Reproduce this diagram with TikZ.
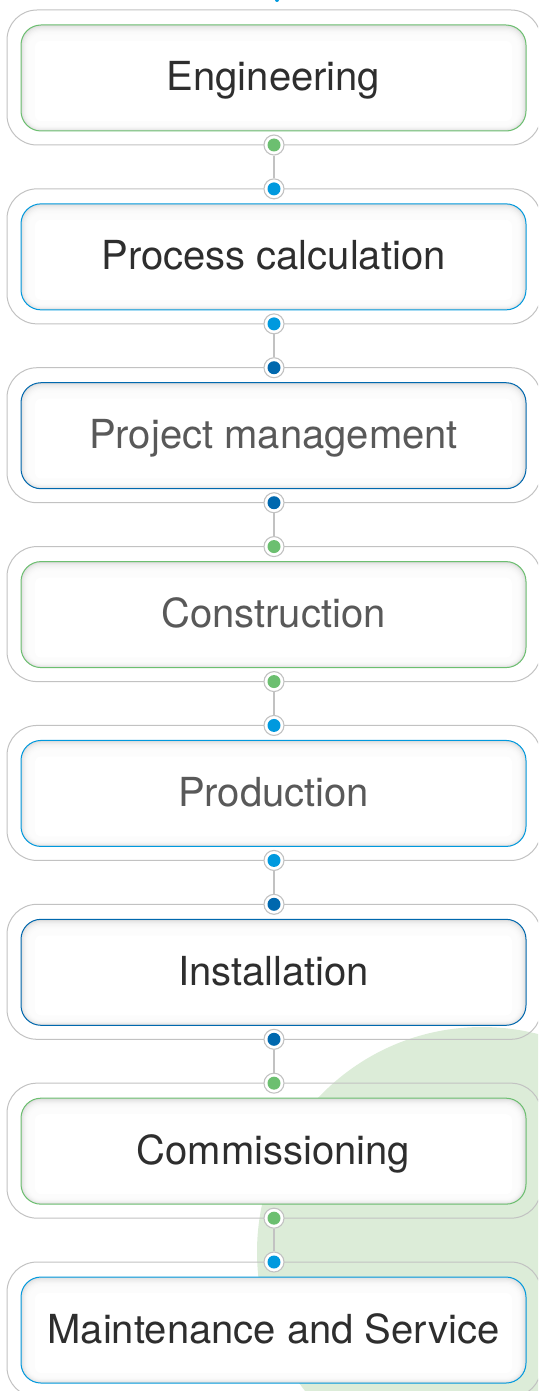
\documentclass[tikz,border=0pt]{standalone}
\usepackage{fontspec}
\setmainfont{TeX Gyre Heros}
\usetikzlibrary{calc}
\definecolor{bggreen}{HTML}{DCECD8}
\definecolor{cgreen}{HTML}{6CBF70}
\definecolor{cblue}{HTML}{0099DE}
\definecolor{cdblue}{HTML}{0068AE}
\definecolor{linegray}{HTML}{C2C2C2}
\definecolor{shadebase}{HTML}{DADADA}
\definecolor{tdark}{HTML}{2E2E2E}
\definecolor{tgray}{HTML}{595959}
\begin{document}
\begin{tikzpicture}[x=1pt,y=-1pt,
  outerbox/.style={draw=linegray, line width=1pt, rounded corners=30pt,
    minimum width=534pt, minimum height=135pt, inner sep=0pt},
  innerbox/.style={draw=#1, line width=1pt, rounded corners=20pt,
    minimum width=505pt, minimum height=106pt, inner sep=0pt, fill=shadebase,
    text height=40pt, text depth=14pt,
    font=\fontsize{40}{48}\selectfont,
    path picture={
      \foreach \k in {1,...,12}{
        \pgfmathsetmacro\rr{max(20-\k,2)}
        \fill[white, fill opacity=0.3, rounded corners=\rr pt]
          ($(path picture bounding box.south west)+(\k pt,0.7*\k pt)$) rectangle
          ($(path picture bounding box.north east)-(\k pt,1.2*\k pt)$);
      }
      \fill[white, rounded corners=6pt]
        ($(path picture bounding box.south west)+(14pt,10pt)$) rectangle
        ($(path picture bounding box.north east)-(14pt,16pt)$);
    }},
  jdot/.style={circle, draw=linegray, line width=1.1pt, fill=white,
    minimum size=20pt, inner sep=0pt,
    path picture={\fill[#1] (path picture bounding box.center) circle (6.5pt);}},
  conn/.style={draw=linegray, line width=1.2pt}
]
\useasboundingbox (0,0) rectangle (538,1391);
\clip (0,0) rectangle (538,1391);
\fill[bggreen] (482,1252) circle (225pt);
\fill[cblue] (277,0) circle (2pt);
\foreach \i/\txt/\col/\tc in {1/Engineering/cgreen/tdark,
    2/Process calculation/cblue/tdark,
    3/Project management/cdblue/tgray,
    4/Construction/cgreen/tgray,
    5/Production/cblue/tgray,
    6/Installation/cdblue/tdark,
    7/Commissioning/cgreen/tdark,
    8/Maintenance and Service/cblue/tdark}{
  \pgfmathsetmacro\ty{10+178.86*(\i-1)}
  \node[outerbox] (o\i) at (274,\ty+67.5) {};
  \node[innerbox=\col, text=\tc] (s\i) at (273.5,\ty+68) {\txt};
  \ifnum\i>1 \node[jdot=\col] (t\i) at (274,\ty) {};\fi
  \ifnum\i<8 \node[jdot=\col] (b\i) at (274,\ty+135) {};\fi
}
\foreach \i [evaluate=\i as \j using int(\i+1)] in {1,...,7}
  \draw[conn] (b\i) -- (t\j);
\end{tikzpicture}
\end{document}
